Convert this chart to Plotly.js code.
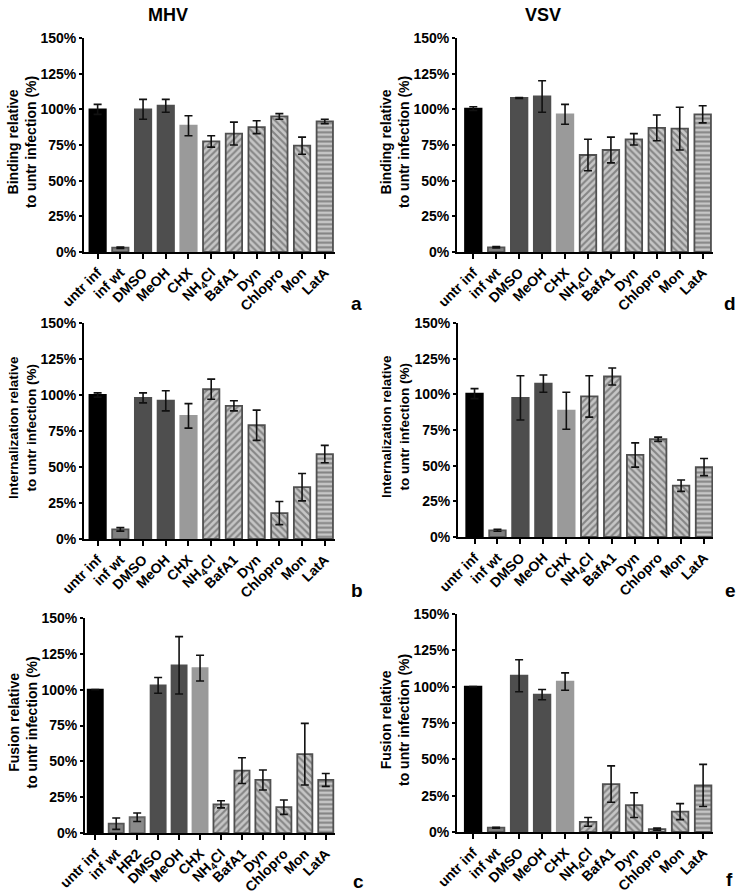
<!DOCTYPE html>
<html>
<head>
<meta charset="utf-8">
<script src="https://cdn.plot.ly/plotly-3.0.1.min.js"></script>
<style>html,body{margin:0;padding:0;background:#fff;}#chart{width:742px;height:894px;}</style>
</head>
<body>
<div id="chart"></div>
<script>
// ---------- data ----------
const catsStd = ['untr inf','inf wt','DMSO','MeOH','CHX','NH<sub>4</sub>Cl','BafA1','Dyn','Chlopro','Mon','LatA'];
const catsFusMHV = ['untr inf','inf wt','HR2','DMSO','MeOH','CHX','NH<sub>4</sub>Cl','BafA1','Dyn','Chlopro','Mon','LatA'];

const bindMHV    = [100, 3, 100, 102.5, 88.5, 77.5, 83, 87.5, 95, 74.5, 91.5];
const bindMHVErr = [3.5, 0.5, 7, 4.5, 7, 4, 8, 4.5, 2, 6, 1.5];
const bindVSV    = [100.5, 3.3, 108, 109, 96.5, 68, 71.5, 79, 87, 86.5, 96.5];
const bindVSVErr = [1.3, 0.5, 0.3, 11, 7, 11, 9, 4, 9, 15, 6];

const intMHV     = [100, 6.7, 98, 96, 85.5, 104, 92.5, 79, 18, 36, 59];
const intMHVErr  = [1.5, 1.2, 3.5, 7, 8.5, 7, 3.5, 10.5, 8, 9.5, 6];
const intVSV     = [100.5, 4.7, 97.5, 107.5, 88.5, 98.5, 112.5, 57.5, 68.5, 36, 49];
const intVSVErr  = [3.5, 0.7, 15.5, 6, 13, 14.5, 6, 8.5, 1.5, 4, 6];

const fusMHV     = [100, 6.5, 11, 103, 117, 115, 20, 43.5, 37, 18, 55, 37];
const fusMHVErr  = [0, 4, 3, 5.5, 20, 9, 2.5, 9, 7, 5, 21.5, 4.5];
const fusVSV     = [100, 3, 107.5, 94.5, 103.5, 7, 33, 18.5, 2, 14, 32];
const fusVSVErr  = [0, 0.3, 11, 3.5, 6, 3, 12.5, 8.5, 0.7, 5.5, 14.5];

const yTickVals = [0, 25, 50, 75, 100, 125, 150];
const yTickText = ['0%', '25%', '50%', '75%', '100%', '125%', '150%'];

const colTitles = ['MHV', 'VSV'];
const yTitles = ['Binding relative<br>to untr infection (%)',
                 'Internalization relative<br>to untr infection (%)',
                 'Fusion relative<br>to untr infection (%)'];
const panelLetters = ['a', 'd', 'b', 'e', 'c', 'f'];

// ---------- styles ----------
const W = 742, H = 894;
const FONT = 'Liberation Sans, Arial, Helvetica, sans-serif';
const HATCH_BG = '#c6c6c6', HATCH_FG = '#4a4a4a';
const bold = s => '<b>' + s + '</b>';

function styleFor(cat) {
  const base = cat.replace(/<[^>]+>/g, '');
  switch (base) {
    case 'untr inf': return {c: '#000000', l: '#000000', s: ''};
    case 'inf wt':   return {c: '#808080', l: '#555555', s: ''};
    case 'HR2':      return {c: '#8a8a8a', l: '#666666', s: ''};
    case 'DMSO':
    case 'MeOH':     return {c: '#4e4e4e', l: '#4e4e4e', s: ''};
    case 'CHX':      return {c: '#9a9a9a', l: '#9a9a9a', s: ''};
    case 'NH4Cl':
    case 'BafA1':    return {c: HATCH_BG, l: '#505050', s: '/'};
    case 'Dyn':
    case 'Chlopro':
    case 'Mon':      return {c: HATCH_BG, l: '#505050', s: '\\'};
    case 'LatA':     return {c: HATCH_BG, l: '#505050', s: '-'};
  }
  return {c: '#888', l: '#555', s: ''};
}

// panel geometry in pixels: [left, right, top(150%), bottom(0%), xlo, xhi]
const panels = [
  {cats: catsStd,    y: bindMHV, e: bindMHVErr, g: [84, 335, 38, 252, -0.6, 10.45]},
  {cats: catsStd,    y: bindVSV, e: bindVSVErr, g: [457, 713, 38, 252, -0.71, 10.45]},
  {cats: catsStd,    y: intMHV,  e: intMHVErr,  g: [84, 335, 323, 539, -0.6, 10.45]},
  {cats: catsStd,    y: intVSV,  e: intVSVErr,  g: [458, 713, 323, 537, -0.72, 10.39]},
  {cats: catsFusMHV, y: fusMHV,  e: fusMHVErr,  g: [85, 335, 618, 833, -0.49, 11.44]},
  {cats: catsStd,    y: fusVSV,  e: fusVSVErr,  g: [457, 713, 614, 832, -0.7, 10.43]}
];

const data = [];
const layout = {
  width: W, height: H,
  margin: {l: 0, r: 0, t: 0, b: 0},
  paper_bgcolor: '#ffffff', plot_bgcolor: '#ffffff',
  showlegend: false,
  bargap: 0.28,
  font: {family: FONT, color: '#000', size: 13},
  annotations: []
};

panels.forEach((p, i) => {
  const n = i + 1;
  const xa = n === 1 ? 'x' : 'x' + n, ya = n === 1 ? 'y' : 'y' + n;
  const st = p.cats.map(styleFor);
  data.push({
    type: 'bar', x: p.cats, y: p.y, xaxis: xa, yaxis: ya,
    marker: {
      color: st.map(s => s.c),
      line: {color: st.map(s => s.l), width: 1.8},
      pattern: {shape: st.map(s => s.s), fillmode: 'overlay', fgcolor: HATCH_FG,
                size: st.map(s => s.s === '-' ? 4.6 : 4.8), solidity: 0.45}
    },
    error_y: {type: 'data', array: p.e, visible: true, color: '#111', thickness: 1.6, width: 4},
    hoverinfo: 'skip'
  });
  const [l, r, t, b, xlo, xhi] = p.g;
  layout['xaxis' + (n === 1 ? '' : n)] = {
    domain: [l / W, r / W], anchor: ya, type: 'category',
    range: [xlo, xhi], showline: true, linecolor: '#000', linewidth: 2,
    tickmode: 'array', tickvals: p.cats, ticktext: p.cats.map(bold),
    ticks: 'outside', ticklen: 5, tickwidth: 2, tickcolor: '#000',
    tickangle: -45, tickfont: {family: FONT, size: 14, color: '#000'},
    showgrid: false, zeroline: false, fixedrange: true
  };
  layout['yaxis' + (n === 1 ? '' : n)] = {
    domain: [(H - b) / H, (H - t) / H], anchor: xa,
    range: [0, 150], tickmode: 'array', tickvals: yTickVals, ticktext: yTickText.map(bold),
    showline: true, linecolor: '#000', linewidth: 2,
    ticks: 'outside', ticklen: 3, tickwidth: 2, tickcolor: '#000',
    tickfont: {family: FONT, size: 14, color: '#000'},
    showgrid: false, zeroline: false, fixedrange: true
  };
  // y title
  const col = i % 2, row = Math.floor(i / 2);
  layout.annotations.push({
    xref: 'paper', yref: 'paper',
    x: (col === 0 ? 22 : 395) / W, y: (H - (t + b) / 2 + 3) / H,
    xanchor: 'center', yanchor: 'middle', textangle: -90, showarrow: false,
    text: bold(yTitles[row]), font: {family: FONT, size: row === 1 ? 13.5 : 14, color: '#000'}
  });
});

// column titles
[[168, 15], [543, 15]].forEach((pos, k) => {
  layout.annotations.push({xref: 'paper', yref: 'paper', x: pos[0] / W, y: (H - pos[1]) / H,
    xanchor: 'center', yanchor: 'middle', showarrow: false, text: bold(colTitles[k]),
    font: {family: FONT, size: 18, color: '#000'}});
});

// panel letters
const letterPos = [[356, 303], [730, 303], [357, 590], [730, 590], [358, 881], [729, 879]];
letterPos.forEach((pos, k) => {
  layout.annotations.push({xref: 'paper', yref: 'paper', x: pos[0] / W, y: (H - pos[1]) / H,
    xanchor: 'center', yanchor: 'middle', showarrow: false, text: bold(panelLetters[k]),
    font: {family: FONT, size: 19, color: '#000'}});
});

Plotly.newPlot('chart', data, layout, {staticPlot: true, displayModeBar: false});
</script>
</body>
</html>
